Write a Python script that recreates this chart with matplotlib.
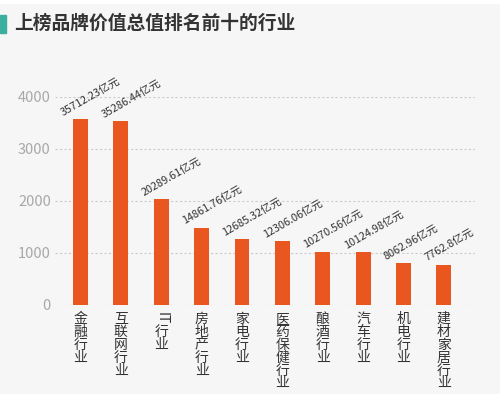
import matplotlib.pyplot as plt
import matplotlib.transforms as mtransforms
from matplotlib.patches import Rectangle

plt.rcParams['font.family'] = ['Noto Sans CJK SC', 'DejaVu Sans']

industries = ["金融行业", "互联网行业", "IT行业", "房地产行业", "家电行业",
              "医药保健行业", "酿酒行业", "汽车行业", "机电行业", "建材家居行业"]
totals = [35712.23, 35286.44, 20289.61, 14861.76, 12685.32,
          12306.06, 10270.56, 10124.98, 8062.96, 7762.8]
value_labels = ["35712.23亿元", "35286.44亿元", "20289.61亿元", "14861.76亿元", "12685.32亿元",
                "12306.06亿元", "10270.56亿元", "10124.98亿元", "8062.96亿元", "7762.8亿元"]
heights = [v / 10 for v in totals]  # 图上柱高按 /10 画
yticks = [0, 1000, 2000, 3000, 4000]

fig = plt.figure(figsize=(5, 3.94), dpi=100)
fig.patch.set_facecolor('#f6f6f6')
# 顶部白边
fig.patches.append(Rectangle((0, 0.992), 1, 0.008, transform=fig.transFigure,
                             color='white', zorder=0))
# 标题左侧色块
fig.patches.append(Rectangle((0.0, 0.916), 0.011, 0.046, transform=fig.transFigure,
                             color='#3cae9e', zorder=1))
fig.text(0.028, 0.94, "上榜品牌价值总值排名前十的行业", fontsize=13.5, color='#333333',
         weight='bold', va='center', ha='left')

ax = fig.add_axes([0.11, 0.226, 0.84, 0.528])
ax.set_facecolor('#f6f6f6')
x = list(range(len(industries)))
ax.bar(x, heights, width=0.37, color='#e9561f', zorder=3)

ax.set_xlim(-0.63, 9.77)
ax.set_ylim(0, 4000)
ax.set_yticks(yticks)
ax.set_yticklabels([str(t) for t in yticks], color='#a8a8a8', fontsize=10.5)
ax.tick_params(axis='y', length=0, pad=3)
ax.set_xticks([])
ax.grid(axis='y', linestyle=(0, (2, 2)), color='#cccccc', linewidth=0.8, zorder=0)
for s in ax.spines.values():
    s.set_visible(False)

for i, (h, lab) in enumerate(zip(heights, value_labels)):
    ax.text(i - 0.4, h + 30, lab, rotation=30, rotation_mode='anchor',
            ha='left', va='bottom', fontsize=7.8, color='#333333', clip_on=False)

# 竖排行业名
trans = mtransforms.offset_copy(ax.get_xaxis_transform(), fig=fig, y=-7, units='dots')
for i, name in enumerate(industries):
    if name.startswith("IT"):
        ax.text(i, 0, "IT", rotation=-90, ha='center', va='top', fontsize=10,
                color='#333333', weight='medium', transform=trans)
        rest = "\n".join(name[2:])
        t2 = mtransforms.offset_copy(ax.get_xaxis_transform(), fig=fig, y=-20, units='dots')
        ax.text(i, 0, rest, ha='center', va='top', fontsize=10, color='#333333',
                weight='medium', linespacing=0.9, transform=t2)
    else:
        ax.text(i, 0, "\n".join(name), ha='center', va='top', fontsize=10,
                color='#333333', weight='medium', linespacing=0.9, transform=trans)

fig.savefig('out.png', dpi=100, facecolor=fig.get_facecolor())
